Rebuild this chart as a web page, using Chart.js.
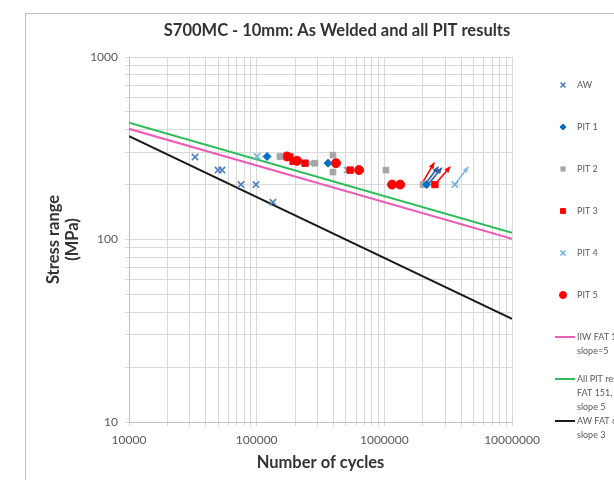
<!DOCTYPE html>
<html>
<head>
<meta charset="utf-8">
<script src="https://cdn.jsdelivr.net/npm/chart.js@4.4.1/dist/chart.umd.min.js"></script>
<style>
  html, body { margin: 0; padding: 0; background: #fff; }
  #wrap { width: 614px; height: 480px; position: relative; }
</style>
</head>
<body>
<div id="wrap"><canvas id="myChart" width="614" height="480"></canvas></div>
<script>
// tick labels
const cycleTicks = [10000, 100000, 1000000, 10000000];
const stressTicks = [10, 100, 1000];

// test results [cycles, stress range MPa]
const awPoints = [[32900, 283], [49800, 240], [53500, 240], [75300, 200], [98800, 200], [134000, 160]];
const pit1Points = [[120600, 285], [362000, 262], [2150000, 200]];
const pit2Points = [[152000, 285], [286000, 262], [396000, 290], [396000, 234], [1030000, 240], [2010000, 200]];
const pit3Points = [[182000, 283], [193000, 268], [239000, 262], [539000, 240], [2490000, 200]];
const pit4Points = [[100700, 285], [262000, 262], [510000, 240], [3570000, 200]];
const pit5Points = [[173000, 285], [207000, 270], [418000, 262], [634000, 240], [1150000, 200], [1330000, 200]];

// run-outs [fromN, fromS, toN, toS]
const redRunouts = [[1950000, 200, 2450000, 262], [2490000, 200, 3260000, 249]];
const blueRunouts = [[2080000, 200, 2630000, 249], [2200000, 200, 2800000, 246]];
const lightRunouts = [[3570000, 200, 4520000, 249]];

// design curves (end points)
const lineN = [10000, 10000000];
const iiwS = [404, 101];
const pitFatS = [436, 109];
const awFatS = [368, 36.8];

const toXY = arr => arr.map(p => ({ x: p[0], y: p[1] }));

function decadeTicks(min, max) {
  const out = [];
  for (let e = Math.log10(min); e < Math.log10(max); e++) {
    for (let k = 1; k < 10; k++) out.push({ value: k * Math.pow(10, e) });
  }
  out.push({ value: max });
  return out;
}

const pointSets = [
  { label: 'AW', data: toXY(awPoints), pointStyle: 'crossRot', radius: 4.5, borderWidth: 1.6, color: '#4a7ebb' },
  { label: 'PIT 1', data: toXY(pit1Points), pointStyle: 'rectRot', radius: 4, borderWidth: 1, color: '#0070c0' },
  { label: 'PIT 2', data: toXY(pit2Points), pointStyle: 'rect', radius: 4, borderWidth: 1, color: '#a5a5a5' },
  { label: 'PIT 3', data: toXY(pit3Points), pointStyle: 'rect', radius: 4.5, borderWidth: 1, color: '#ff0000' },
  { label: 'PIT 4', data: toXY(pit4Points), pointStyle: 'crossRot', radius: 4.5, borderWidth: 1.6, color: '#6fb3d6' },
  { label: 'PIT 5', data: toXY(pit5Points), pointStyle: 'circle', radius: 4.5, borderWidth: 1, color: '#ff0000' }
];

const lineSets = [
  { label: 'IIW FAT 140,|slope=5', ys: iiwS, color: '#ea5fb6' },
  { label: 'All PIT results|FAT 151,|slope 5', ys: pitFatS, color: '#2dbd5a' },
  { label: 'AW FAT 63,|slope 3', ys: awFatS, color: '#1a1a1a' }
];

const datasets = [];
pointSets.forEach(s => datasets.push({
  label: s.label, data: s.data, showLine: false, pointStyle: s.pointStyle,
  pointRadius: s.radius, pointBorderWidth: s.borderWidth,
  pointBackgroundColor: s.color, pointBorderColor: s.color, order: 1
}));
function addRunouts(list, color) {
  list.forEach(r => datasets.push({
    label: 'runout', data: [{ x: r[0], y: r[1] }, { x: r[2], y: r[3] }],
    showLine: true, pointRadius: 0, borderColor: color, borderWidth: 1.6, arrow: true, order: 2
  }));
}
addRunouts(redRunouts, '#ff0000');
addRunouts(blueRunouts, '#2f5f9f');
addRunouts(lightRunouts, '#8ab8e0');
lineSets.forEach(s => datasets.push({
  label: s.label, data: lineN.map((n, i) => ({ x: n, y: s.ys[i] })),
  showLine: true, pointRadius: 0, borderColor: s.color, borderWidth: 2, order: 3
}));

const FONT = 'Lato, "Open Sans", sans-serif';

const decor = {
  id: 'decor',
  beforeDraw(chart) {
    const c = chart.ctx;
    c.save();
    c.strokeStyle = '#bfbfbf';
    c.lineWidth = 1;
    c.strokeRect(25.5, 13.5, 700, 600);
    c.restore();
  },
  afterDatasetsDraw(chart) {
    const c = chart.ctx;
    // arrow heads
    chart.data.datasets.forEach((ds, i) => {
      if (!ds.arrow) return;
      const pts = chart.getDatasetMeta(i).data;
      const a = pts[0], b = pts[1];
      const ang = Math.atan2(b.y - a.y, b.x - a.x);
      const L = 6;
      c.save();
      c.fillStyle = ds.borderColor;
      c.beginPath();
      c.moveTo(b.x + 1.5 * Math.cos(ang), b.y + 1.5 * Math.sin(ang));
      c.lineTo(b.x - L * Math.cos(ang - 0.45), b.y - L * Math.sin(ang - 0.45));
      c.lineTo(b.x - L * Math.cos(ang + 0.45), b.y - L * Math.sin(ang + 0.45));
      c.closePath();
      c.fill();
      c.restore();
    });
  },
  afterDraw(chart) {
    const c = chart.ctx;
    const area = chart.chartArea;
    c.save();
    // title
    c.fillStyle = '#333333';
    c.font = 'bold 16.5px ' + FONT;
    c.textAlign = 'center';
    c.textBaseline = 'middle';
    c.fillText('S700MC - 10mm: As Welded and all PIT results', 337, 31);
    // axis titles
    c.font = 'bold 16.5px ' + FONT;
    c.fillText('Number of cycles', (area.left + area.right) / 2, 463);
    c.save();
    c.translate(63, (area.top + area.bottom) / 2);
    c.rotate(-Math.PI / 2);
    c.fillText('Stress range', 0, -9);
    c.fillText('(MPa)', 0, 10);
    c.restore();
    // legend
    c.font = '9px ' + FONT;
    c.textAlign = 'left';
    const x0 = 563, tx = 577;
    pointSets.forEach((s, i) => {
      const y = 85 + i * 42;
      c.fillStyle = s.color;
      c.strokeStyle = s.color;
      c.lineWidth = s.borderWidth;
      Chart.helpers.drawPoint(c, { pointStyle: s.pointStyle, radius: s.radius - 1, borderWidth: s.borderWidth, rotation: 0 }, x0, y);
      c.fillStyle = '#595959';
      c.fillText(s.label, tx, y);
    });
    let y = 337;
    lineSets.forEach(s => {
      c.strokeStyle = s.color;
      c.lineWidth = 2;
      c.beginPath();
      c.moveTo(555, y);
      c.lineTo(575, y);
      c.stroke();
      c.fillStyle = '#595959';
      s.label.split('|').forEach((t, k) => c.fillText(t, tx, y + k * 14));
      y += 42;
    });
    c.restore();
  }
};

new Chart(document.getElementById('myChart').getContext('2d'), {
  type: 'scatter',
  data: { datasets },
  options: {
    responsive: false,
    animation: false,
    layout: { padding: { top: 57, right: 102, left: 0, bottom: 0 } },
    plugins: { legend: { display: false }, tooltip: { enabled: false }, title: { display: false } },
    scales: {
      x: {
        type: 'logarithmic',
        min: cycleTicks[0], max: cycleTicks[cycleTicks.length - 1],
        afterBuildTicks: s => { s.ticks = decadeTicks(s.min, s.max); },
        afterFit: s => { s.height = 58; },
        grid: { color: '#d9d9d9', tickLength: 4, drawTicks: true },
        border: { color: '#bfbfbf' },
        ticks: {
          autoSkip: false, maxRotation: 0, padding: 7,
          color: '#595959', font: { family: FONT, size: 12 },
          callback: v => cycleTicks.includes(v) ? String(v) : ''
        }
      },
      y: {
        type: 'logarithmic',
        min: stressTicks[0], max: stressTicks[stressTicks.length - 1],
        afterBuildTicks: s => { s.ticks = decadeTicks(s.min, s.max); },
        afterFit: s => { s.width = 129; },
        grid: { color: '#d9d9d9', tickLength: 4, drawTicks: true },
        border: { color: '#bfbfbf' },
        ticks: {
          autoSkip: false, padding: 7,
          color: '#595959', font: { family: FONT, size: 12 },
          callback: v => stressTicks.includes(v) ? String(v) : ''
        }
      }
    }
  },
  plugins: [decor]
});
</script>
</body>
</html>
